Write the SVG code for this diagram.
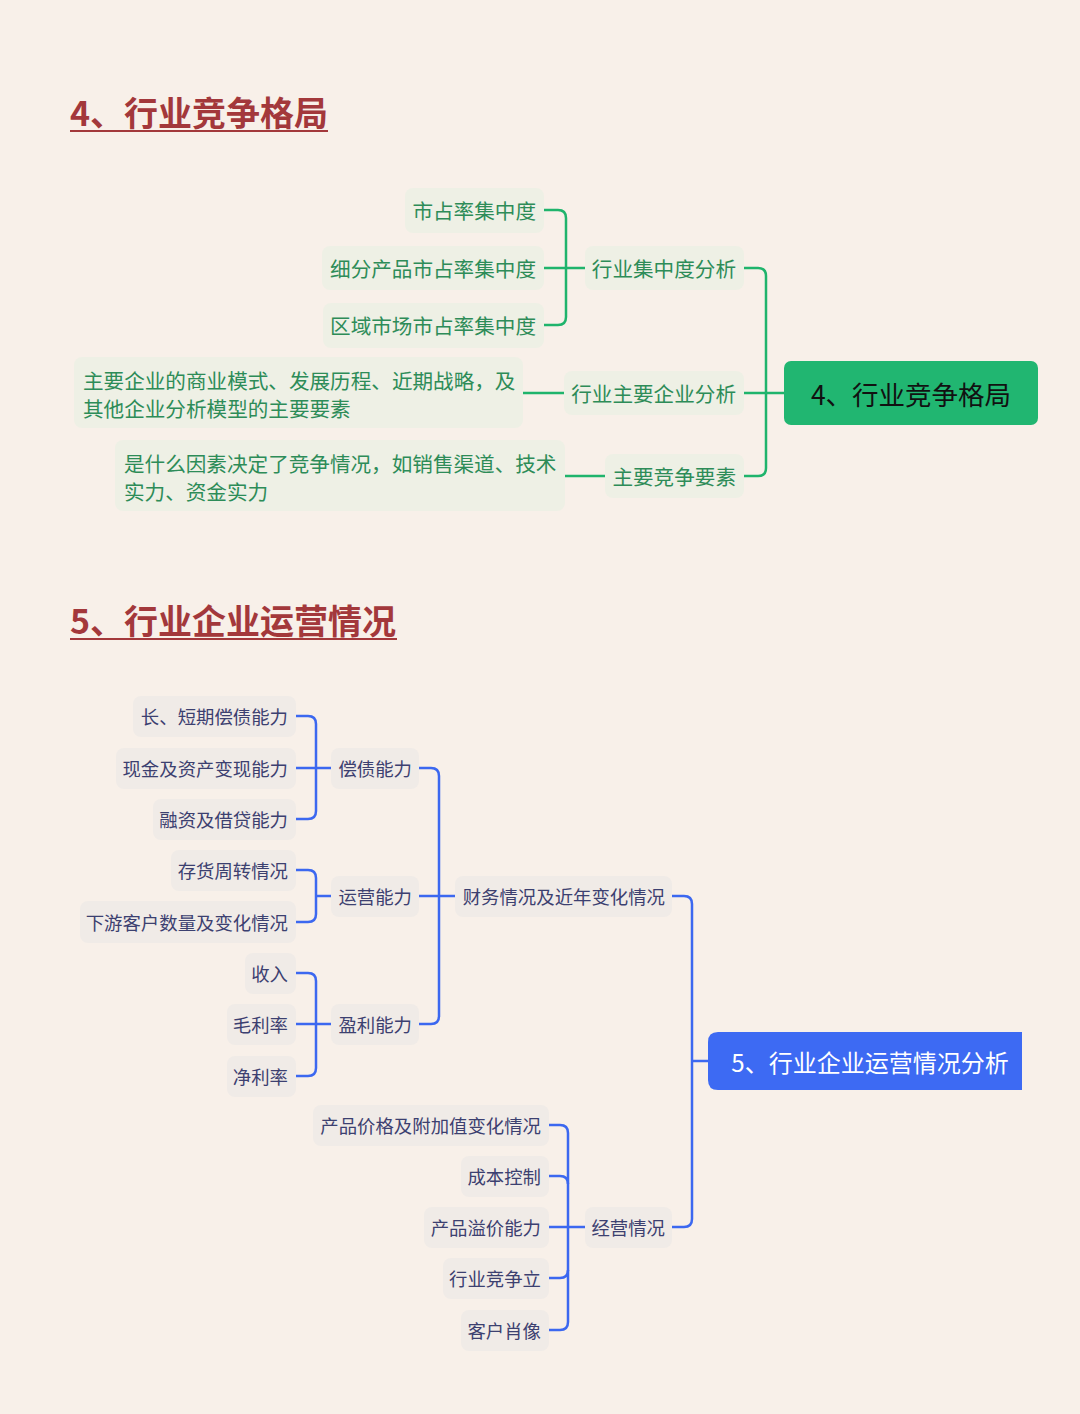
<svg xmlns="http://www.w3.org/2000/svg" width="1080" height="1414" viewBox="0 0 1080 1414">
<style>
text{font-family:"Noto Sans CJK SC","Noto Sans",sans-serif;dominant-baseline:central}
.title{font-size:34px;font-weight:bold;fill:#a3383b;dominant-baseline:auto}
.gbox{fill:#eef0e5}
.gt{font-size:20.6px;fill:#2d8c58;text-anchor:end}
.gtl{font-size:20.6px;fill:#2d8c58}
.bbox{fill:#f0ebe7}
.bt{font-size:18.4px;fill:#3c4070;text-anchor:end}
.gc{fill:none;stroke:#1fb46c;stroke-width:2.5}
.bc{fill:none;stroke:#3c68f0;stroke-width:2.5}
</style>
<rect width="1080" height="1414" fill="#f8f0e9"/>
<g id="title4">
<text class="title" x="70" y="126">4、行业竞争格局</text>
<rect x="70" y="130" width="258" height="2" fill="#a3383b"/>
</g>
<g id="title5">
<text class="title" x="70" y="634">5、行业企业运营情况</text>
<rect x="70" y="638" width="327" height="2" fill="#a3383b"/>
</g>
<g id="connectors">
<path class="gc" d="M544 210H558Q566 210 566 218V317Q566 325 558 325H544"/>
<path class="gc" d="M544 268H585"/>
<path class="gc" d="M744 268H758Q766 268 766 276V468Q766 476 758 476H744"/>
<path class="gc" d="M744 393H784"/>
<path class="gc" d="M523 393H564"/>
<path class="gc" d="M565 476H605"/>
<path class="bc" d="M296 716H308Q316 716 316 724V811Q316 819 308 819H296"/>
<path class="bc" d="M296 768H331"/>
<path class="bc" d="M296 870H308Q316 870 316 878V914Q316 922 308 922H296"/>
<path class="bc" d="M316 896H331"/>
<path class="bc" d="M296 973H308Q316 973 316 981V1068Q316 1076 308 1076H296"/>
<path class="bc" d="M296 1024H331"/>
<path class="bc" d="M419 768H431Q439 768 439 776V1016Q439 1024 431 1024H419"/>
<path class="bc" d="M419 896H455"/>
<path class="bc" d="M672 896H684Q692 896 692 904V1219Q692 1227 684 1227H672"/>
<path class="bc" d="M692 1061H708"/>
<path class="bc" d="M549 1125H560Q568 1125 568 1133V1322Q568 1330 560 1330H549"/>
<path class="bc" d="M549 1176H560Q568 1176 568 1184"/>
<path class="bc" d="M549 1278H560Q568 1278 568 1270"/>
<path class="bc" d="M549 1227H585"/>
</g>
<g id="root4">
<rect x="784" y="361" width="254" height="64" rx="7" fill="#21b671"/>
<text x="911" y="393" font-size="26.5" fill="#111" text-anchor="middle">4、行业竞争格局</text>
</g>
<g id="g4-a"><rect class="gbox" x="585" y="246" width="159" height="44" rx="8"/><text class="gt" x="736" y="268">行业集中度分析</text></g>
<g id="g4-b"><rect class="gbox" x="564" y="371" width="180" height="44" rx="8"/><text class="gt" x="736" y="393">行业主要企业分析</text></g>
<g id="g4-c"><rect class="gbox" x="605" y="454" width="139" height="44" rx="8"/><text class="gt" x="736" y="476">主要竞争要素</text></g>
<g id="g4-a1"><rect class="gbox" x="405" y="188" width="139" height="45" rx="8"/><text class="gt" x="536" y="210">市占率集中度</text></g>
<g id="g4-a2"><rect class="gbox" x="322" y="246" width="222" height="44" rx="8"/><text class="gt" x="536" y="268">细分产品市占率集中度</text></g>
<g id="g4-a3"><rect class="gbox" x="323" y="303" width="221" height="45" rx="8"/><text class="gt" x="536" y="325">区域市场市占率集中度</text></g>
<g id="g4-b1"><rect class="gbox" x="74" y="357" width="449" height="71" rx="8"/><text class="gtl" x="83" y="380">主要企业的商业模式、发展历程、近期战略，及</text><text class="gtl" x="83" y="408">其他企业分析模型的主要要素</text></g>
<g id="g4-c1"><rect class="gbox" x="115" y="440" width="450" height="71" rx="8"/><text class="gtl" x="124" y="463">是什么因素决定了竞争情况，如销售渠道、技术</text><text class="gtl" x="124" y="491">实力、资金实力</text></g>
<g id="root5">
<path d="M718 1032H1022V1090H718Q708 1090 708 1080V1042Q708 1032 718 1032Z" fill="#3d6af3"/>
<text x="870" y="1061" font-size="24" fill="#fff" text-anchor="middle">5、行业企业运营情况分析</text>
</g>
<g id="b-fin"><rect class="bbox" x="455" y="876" width="217" height="41" rx="8"/><text class="bt" x="665" y="896">财务情况及近年变化情况</text></g>
<g id="b-ops"><rect class="bbox" x="585" y="1207" width="87" height="41" rx="8"/><text class="bt" x="665" y="1227">经营情况</text></g>
<g id="b-debt"><rect class="bbox" x="331" y="748" width="88" height="41" rx="8"/><text class="bt" x="412" y="768">偿债能力</text></g>
<g id="b-run"><rect class="bbox" x="331" y="876" width="88" height="41" rx="8"/><text class="bt" x="412" y="896">运营能力</text></g>
<g id="b-profit"><rect class="bbox" x="331" y="1004" width="88" height="41" rx="8"/><text class="bt" x="412" y="1024">盈利能力</text></g>
<g id="b-debt1"><rect class="bbox" x="133" y="696" width="163" height="41" rx="8"/><text class="bt" x="288" y="716">长、短期偿债能力</text></g>
<g id="b-debt2"><rect class="bbox" x="116" y="748" width="180" height="41" rx="8"/><text class="bt" x="288" y="768">现金及资产变现能力</text></g>
<g id="b-debt3"><rect class="bbox" x="153" y="799" width="143" height="41" rx="8"/><text class="bt" x="288" y="819">融资及借贷能力</text></g>
<g id="b-run1"><rect class="bbox" x="171" y="850" width="125" height="41" rx="8"/><text class="bt" x="288" y="870">存货周转情况</text></g>
<g id="b-run2"><rect class="bbox" x="80" y="901" width="216" height="42" rx="8"/><text class="bt" x="288" y="922">下游客户数量及变化情况</text></g>
<g id="b-profit1"><rect class="bbox" x="245" y="953" width="51" height="41" rx="8"/><text class="bt" x="288" y="973">收入</text></g>
<g id="b-profit2"><rect class="bbox" x="227" y="1004" width="69" height="41" rx="8"/><text class="bt" x="288" y="1024">毛利率</text></g>
<g id="b-profit3"><rect class="bbox" x="227" y="1056" width="69" height="41" rx="8"/><text class="bt" x="288" y="1076">净利率</text></g>
<g id="b-ops1"><rect class="bbox" x="313" y="1105" width="236" height="41" rx="8"/><text class="bt" x="541" y="1125">产品价格及附加值变化情况</text></g>
<g id="b-ops2"><rect class="bbox" x="461" y="1156" width="88" height="41" rx="8"/><text class="bt" x="541" y="1176">成本控制</text></g>
<g id="b-ops3"><rect class="bbox" x="424" y="1207" width="125" height="41" rx="8"/><text class="bt" x="541" y="1227">产品溢价能力</text></g>
<g id="b-ops4"><rect class="bbox" x="443" y="1258" width="106" height="41" rx="8"/><text class="bt" x="541" y="1278">行业竞争立</text></g>
<g id="b-ops5"><rect class="bbox" x="461" y="1310" width="88" height="41" rx="8"/><text class="bt" x="541" y="1330">客户肖像</text></g>
</svg>
